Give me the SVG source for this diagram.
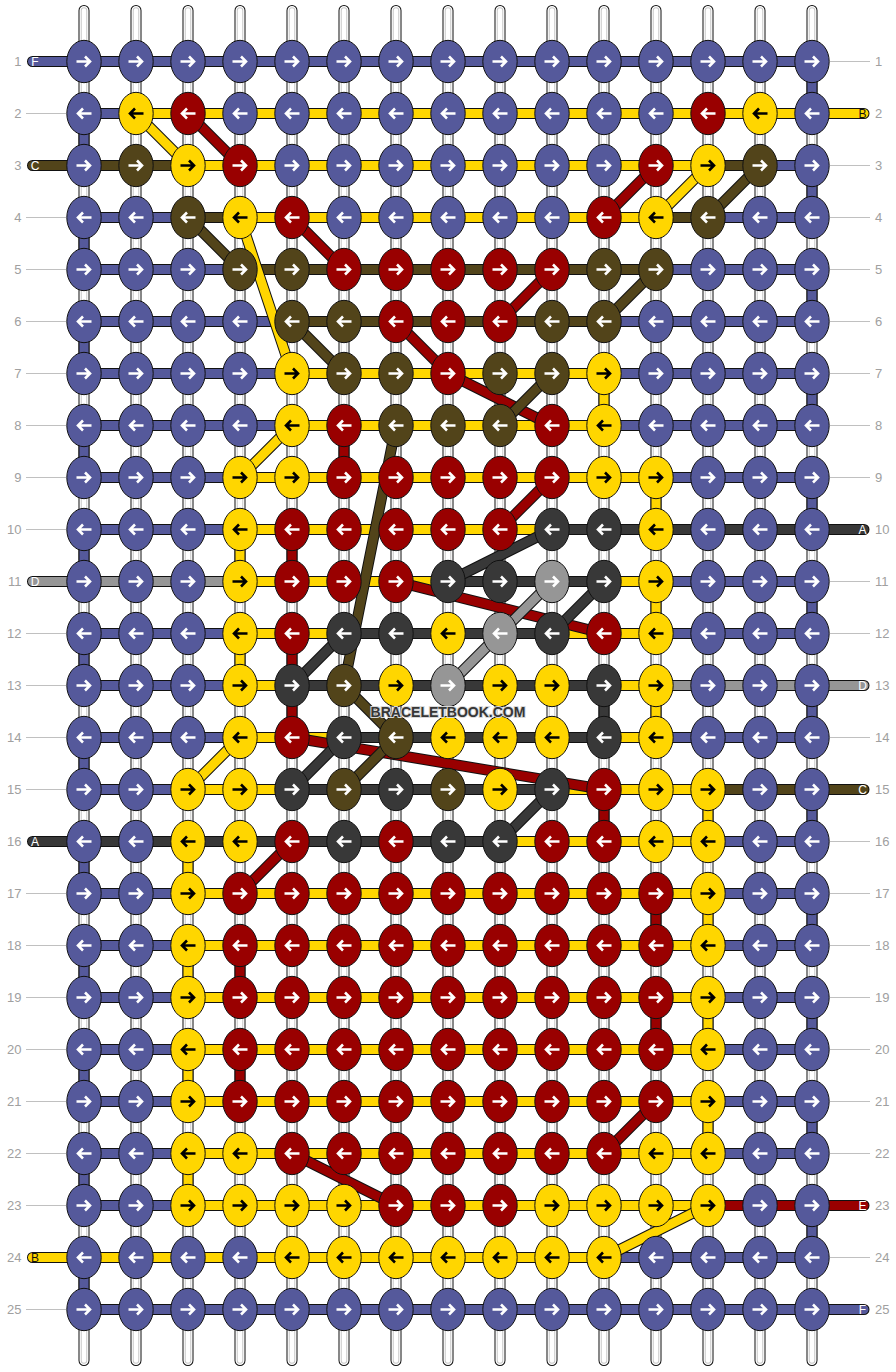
<svg xmlns="http://www.w3.org/2000/svg" xmlns:xlink="http://www.w3.org/1999/xlink" width="896" height="1372" viewBox="0 0 896 1372">
<style>
.ol{fill:none;stroke:#111;stroke-width:11;stroke-linecap:round;stroke-linejoin:round}
.ln{fill:none;stroke-width:9;stroke-linecap:round;stroke-linejoin:round}
.sU{stroke:#55599b}.sY{stroke:#ffd600}.sR{stroke:#990000}.sO{stroke:#52441a}.sK{stroke:#383838}.sG{stroke:#969696}
.U{fill:#55599b;color:#fff}.Y{fill:#ffd600;color:#000}.R{fill:#990000;color:#fff}.O{fill:#52441a;color:#fff}.K{fill:#383838;color:#fff}.G{fill:#969696;color:#fff}
.nl{font-family:"Liberation Sans",Arial,sans-serif;font-size:13px;fill:#a0a0a0;text-anchor:end}
.nr{font-family:"Liberation Sans",Arial,sans-serif;font-size:13px;fill:#a0a0a0}
.lt{font-family:"Liberation Sans",Arial,sans-serif;font-size:12px;fill:#fff;text-anchor:middle}
</style>
<defs>
<g id="kr"><ellipse rx="17.2" ry="21.2" stroke="#111" stroke-width="1"/><path d="M-7.5 0H5M1 -5L6 0L1 5" fill="none" stroke="currentColor" stroke-width="2.6"/></g>
<g id="kl"><ellipse rx="17.2" ry="21.2" stroke="#111" stroke-width="1"/><path d="M7.5 0H-5M-1 -5L-6 0L-1 5" fill="none" stroke="currentColor" stroke-width="2.6"/></g>
<path id="st" d="M84 10.5V1360.5M136 10.5V1360.5M188 10.5V1360.5M240 10.5V1360.5M292 10.5V1360.5M344 10.5V1360.5M396 10.5V1360.5M448 10.5V1360.5M500 10.5V1360.5M552 10.5V1360.5M604 10.5V1360.5M656 10.5V1360.5M708 10.5V1360.5M760 10.5V1360.5M812 10.5V1360.5"/>
<path id="pU" d="M32.5 61.5H812M84 113.5H136M760 165.5H812M84 217.5H188M708 217.5H812M84 269.5H240M656 269.5H812M84 321.5H292M604 321.5H812M84 373.5H292M604 373.5H812M84 425.5H292M604 425.5H812M84 477.5H240M656 477.5H812M84 529.5H240M656 581.5H812M84 633.5H240M656 633.5H812M84 685.5H240M84 737.5H240M656 737.5H812M84 789.5H188M708 841.5H812M84 893.5H188M708 893.5H812M84 945.5H188M708 945.5H812M84 997.5H188M708 997.5H812M84 1049.5H188M708 1049.5H812M84 1101.5H188M708 1101.5H812M84 1153.5H188M708 1153.5H812M84 1205.5H188M604 1257.5H812M84 1309.5H864M812 61.5V113.5M84 113.5V165.5M812 165.5V217.5M84 217.5V269.5M812 269.5V321.5M84 321.5V373.5M812 373.5V425.5M84 425.5V477.5M812 477.5V529.5M84 529.5V581.5M812 581.5V633.5M84 633.5V685.5M812 685.5V737.5M84 737.5V789.5M812 789.5V841.5M84 841.5V893.5M812 893.5V945.5M84 945.5V997.5M812 997.5V1049.5M84 1049.5V1101.5M812 1101.5V1153.5M84 1153.5V1205.5M812 1205.5V1257.5M84 1257.5V1309.5"/>
<path id="pY" d="M136 113.5H864M188 165.5H708M240 217.5H656M292 373.5H604M292 425.5H604M240 477.5H656M240 529.5H552M240 581.5H448M604 581.5H656M240 633.5H344M552 633.5H656M240 685.5H292M604 685.5H656M240 737.5H344M604 737.5H656M188 789.5H292M552 789.5H708M500 841.5H708M188 893.5H708M188 945.5H708M188 997.5H708M188 1049.5H708M188 1101.5H708M188 1153.5H708M188 1205.5H708M32.5 1257.5H604M604 373.5V425.5M656 477.5V529.5M240 529.5V581.5M656 581.5V633.5M240 633.5V685.5M656 685.5V737.5M708 789.5V841.5M188 841.5V893.5M708 893.5V945.5M188 945.5V997.5M708 997.5V1049.5M188 1049.5V1101.5M708 1101.5V1153.5M188 1153.5V1205.5"/>
<path id="pO" d="M32.5 165.5H188M708 165.5H760M188 217.5H240M656 217.5H708M240 269.5H656M292 321.5H604M708 789.5H864"/>
<path id="pK" d="M552 529.5H864M448 581.5H604M344 633.5H552M292 685.5H604M344 737.5H604M292 789.5H552M32.5 841.5H500M604 685.5V737.5"/>
<path id="pG" d="M32.5 581.5H240M656 685.5H864"/>
<path id="pR" d="M708 1205.5H864M344 425.5V477.5M292 529.5V581.5M292 633.5V737.5M604 789.5V841.5M656 893.5V945.5M240 945.5V997.5M656 997.5V1049.5M240 1049.5V1101.5"/>
<path id="d1" d="M136 113.5L188 165.5"/>
<path id="d2" d="M188 113.5L240 165.5"/>
<path id="d3" d="M656 165.5L604 217.5"/>
<path id="d4" d="M708 165.5L656 217.5"/>
<path id="d5" d="M760 165.5L708 217.5"/>
<path id="d6" d="M188 217.5L240 269.5"/>
<path id="d7" d="M292 217.5L344 269.5"/>
<path id="d8" d="M240 217.5L292 373.5"/>
<path id="d9" d="M552 269.5L500 321.5"/>
<path id="d10" d="M656 269.5L604 321.5"/>
<path id="d11" d="M292 321.5L344 373.5"/>
<path id="d12" d="M396 321.5L448 373.5"/>
<path id="d13" d="M448 373.5L552 425.5"/>
<path id="d14" d="M552 373.5L500 425.5"/>
<path id="d15" d="M292 425.5L240 477.5"/>
<path id="d16" d="M396 425.5L344 685.5"/>
<path id="d17" d="M552 477.5L500 529.5"/>
<path id="d18" d="M552 529.5L448 581.5"/>
<path id="d19" d="M396 581.5L604 633.5"/>
<path id="d20" d="M552 581.5L500 633.5"/>
<path id="d21" d="M604 581.5L552 633.5"/>
<path id="d22" d="M344 633.5L292 685.5"/>
<path id="d23" d="M500 633.5L448 685.5"/>
<path id="d24" d="M344 685.5L396 737.5"/>
<path id="d25" d="M240 737.5L188 789.5"/>
<path id="d26" d="M292 737.5L604 789.5"/>
<path id="d27" d="M344 737.5L292 789.5"/>
<path id="d28" d="M396 737.5L344 789.5"/>
<path id="d29" d="M552 789.5L500 841.5"/>
<path id="d30" d="M292 841.5L240 893.5"/>
<path id="d31" d="M656 1101.5L604 1153.5"/>
<path id="d32" d="M292 1153.5L396 1205.5"/>
<path id="d33" d="M708 1205.5L604 1257.5"/>
</defs>
<rect width="896" height="1372" fill="#fff"/>
<g id="connectors">
<use href="#st" fill="none" stroke="#111" stroke-width="11" stroke-linecap="round"/>
<use href="#st" fill="none" stroke="#fff" stroke-width="9" stroke-linecap="round"/>
<use href="#st" fill="none" stroke="#c8c8c8" stroke-width="6.5" stroke-linecap="round"/>
<use href="#st" fill="none" stroke="#fff" stroke-width="4.5" stroke-linecap="round"/>
<use href="#pU" class="ol"/><use href="#pY" class="ol"/><use href="#pO" class="ol"/><use href="#pK" class="ol"/><use href="#pG" class="ol"/><use href="#pR" class="ol"/>
<use href="#pU" class="ln sU"/><use href="#pY" class="ln sY"/><use href="#pO" class="ln sO"/><use href="#pK" class="ln sK"/><use href="#pG" class="ln sG"/><use href="#pR" class="ln sR"/>
<use href="#d1" class="ol"/><use href="#d1" class="ln sY"/>
<use href="#d2" class="ol"/><use href="#d2" class="ln sR"/>
<use href="#d3" class="ol"/><use href="#d3" class="ln sR"/>
<use href="#d4" class="ol"/><use href="#d4" class="ln sY"/>
<use href="#d5" class="ol"/><use href="#d5" class="ln sO"/>
<use href="#d6" class="ol"/><use href="#d6" class="ln sO"/>
<use href="#d7" class="ol"/><use href="#d7" class="ln sR"/>
<use href="#d8" class="ol"/><use href="#d8" class="ln sY"/>
<use href="#d9" class="ol"/><use href="#d9" class="ln sR"/>
<use href="#d10" class="ol"/><use href="#d10" class="ln sO"/>
<use href="#d11" class="ol"/><use href="#d11" class="ln sO"/>
<use href="#d12" class="ol"/><use href="#d12" class="ln sR"/>
<use href="#d13" class="ol"/><use href="#d13" class="ln sR"/>
<use href="#d14" class="ol"/><use href="#d14" class="ln sO"/>
<use href="#d15" class="ol"/><use href="#d15" class="ln sY"/>
<use href="#d16" class="ol"/><use href="#d16" class="ln sO"/>
<use href="#d17" class="ol"/><use href="#d17" class="ln sR"/>
<use href="#d18" class="ol"/><use href="#d18" class="ln sK"/>
<use href="#d19" class="ol"/><use href="#d19" class="ln sR"/>
<use href="#d20" class="ol"/><use href="#d20" class="ln sG"/>
<use href="#d21" class="ol"/><use href="#d21" class="ln sK"/>
<use href="#d22" class="ol"/><use href="#d22" class="ln sK"/>
<use href="#d23" class="ol"/><use href="#d23" class="ln sG"/>
<use href="#d24" class="ol"/><use href="#d24" class="ln sO"/>
<use href="#d25" class="ol"/><use href="#d25" class="ln sY"/>
<use href="#d26" class="ol"/><use href="#d26" class="ln sR"/>
<use href="#d27" class="ol"/><use href="#d27" class="ln sK"/>
<use href="#d28" class="ol"/><use href="#d28" class="ln sO"/>
<use href="#d29" class="ol"/><use href="#d29" class="ln sK"/>
<use href="#d30" class="ol"/><use href="#d30" class="ln sR"/>
<use href="#d31" class="ol"/><use href="#d31" class="ln sR"/>
<use href="#d32" class="ol"/><use href="#d32" class="ln sR"/>
<use href="#d33" class="ol"/><use href="#d33" class="ln sY"/>
</g>
<g id="labels">
<path d="M26 113.5H66M26 217.5H66M26 269.5H66M26 321.5H66M26 373.5H66M26 425.5H66M26 477.5H66M26 529.5H66M26 633.5H66M26 685.5H66M26 737.5H66M26 789.5H66M26 893.5H66M26 945.5H66M26 997.5H66M26 1049.5H66M26 1101.5H66M26 1153.5H66M26 1205.5H66M26 1309.5H66M830 61.5H870M830 165.5H870M830 217.5H870M830 269.5H870M830 321.5H870M830 373.5H870M830 425.5H870M830 477.5H870M830 581.5H870M830 633.5H870M830 737.5H870M830 841.5H870M830 893.5H870M830 945.5H870M830 997.5H870M830 1049.5H870M830 1101.5H870M830 1153.5H870M830 1257.5H870" stroke="#c0c0c0" stroke-width="1" fill="none"/>
<text class="nl" x="21.5" y="66">1</text><text class="nl" x="21.5" y="118">2</text><text class="nl" x="21.5" y="170">3</text><text class="nl" x="21.5" y="222">4</text><text class="nl" x="21.5" y="274">5</text><text class="nl" x="21.5" y="326">6</text><text class="nl" x="21.5" y="378">7</text><text class="nl" x="21.5" y="430">8</text><text class="nl" x="21.5" y="482">9</text><text class="nl" x="21.5" y="534">10</text><text class="nl" x="21.5" y="586">11</text><text class="nl" x="21.5" y="638">12</text><text class="nl" x="21.5" y="690">13</text><text class="nl" x="21.5" y="742">14</text><text class="nl" x="21.5" y="794">15</text><text class="nl" x="21.5" y="846">16</text><text class="nl" x="21.5" y="898">17</text><text class="nl" x="21.5" y="950">18</text><text class="nl" x="21.5" y="1002">19</text><text class="nl" x="21.5" y="1054">20</text><text class="nl" x="21.5" y="1106">21</text><text class="nl" x="21.5" y="1158">22</text><text class="nl" x="21.5" y="1210">23</text><text class="nl" x="21.5" y="1262">24</text><text class="nl" x="21.5" y="1314">25</text>
<text class="nr" x="875" y="66">1</text><text class="nr" x="875" y="118">2</text><text class="nr" x="875" y="170">3</text><text class="nr" x="875" y="222">4</text><text class="nr" x="875" y="274">5</text><text class="nr" x="875" y="326">6</text><text class="nr" x="875" y="378">7</text><text class="nr" x="875" y="430">8</text><text class="nr" x="875" y="482">9</text><text class="nr" x="875" y="534">10</text><text class="nr" x="875" y="586">11</text><text class="nr" x="875" y="638">12</text><text class="nr" x="875" y="690">13</text><text class="nr" x="875" y="742">14</text><text class="nr" x="875" y="794">15</text><text class="nr" x="875" y="846">16</text><text class="nr" x="875" y="898">17</text><text class="nr" x="875" y="950">18</text><text class="nr" x="875" y="1002">19</text><text class="nr" x="875" y="1054">20</text><text class="nr" x="875" y="1106">21</text><text class="nr" x="875" y="1158">22</text><text class="nr" x="875" y="1210">23</text><text class="nr" x="875" y="1262">24</text><text class="nr" x="875" y="1314">25</text>
<text class="lt" x="35" y="65.8">F</text><text class="lt" x="35" y="169.8">C</text><text class="lt" x="35" y="585.8">D</text><text class="lt" x="35" y="845.8">A</text><text class="lt" x="35" y="1261.8" fill="#111" style="fill:#111">B</text>
<text class="lt" x="862.5" y="117.8" style="fill:#111">B</text><text class="lt" x="862.5" y="533.8">A</text><text class="lt" x="862.5" y="689.8">D</text><text class="lt" x="862.5" y="793.8">C</text><text class="lt" x="862.5" y="1209.8">E</text><text class="lt" x="862.5" y="1313.8">F</text>
</g>
<g id="knots">
<g transform="translate(0 61.5)"><g id="k1-1" class="U"><use href="#kr" x="84"/></g><g id="k1-2" class="U"><use href="#kr" x="136"/></g><g id="k1-3" class="U"><use href="#kr" x="188"/></g><g id="k1-4" class="U"><use href="#kr" x="240"/></g><g id="k1-5" class="U"><use href="#kr" x="292"/></g><g id="k1-6" class="U"><use href="#kr" x="344"/></g><g id="k1-7" class="U"><use href="#kr" x="396"/></g><g id="k1-8" class="U"><use href="#kr" x="448"/></g><g id="k1-9" class="U"><use href="#kr" x="500"/></g><g id="k1-10" class="U"><use href="#kr" x="552"/></g><g id="k1-11" class="U"><use href="#kr" x="604"/></g><g id="k1-12" class="U"><use href="#kr" x="656"/></g><g id="k1-13" class="U"><use href="#kr" x="708"/></g><g id="k1-14" class="U"><use href="#kr" x="760"/></g><g id="k1-15" class="U"><use href="#kr" x="812"/></g></g>
<g transform="translate(0 113.5)"><g id="k2-1" class="U"><use href="#kl" x="84"/></g><g id="k2-2" class="Y"><use href="#kl" x="136"/></g><g id="k2-3" class="R"><use href="#kl" x="188"/></g><g id="k2-4" class="U"><use href="#kl" x="240"/></g><g id="k2-5" class="U"><use href="#kl" x="292"/></g><g id="k2-6" class="U"><use href="#kl" x="344"/></g><g id="k2-7" class="U"><use href="#kl" x="396"/></g><g id="k2-8" class="U"><use href="#kl" x="448"/></g><g id="k2-9" class="U"><use href="#kl" x="500"/></g><g id="k2-10" class="U"><use href="#kl" x="552"/></g><g id="k2-11" class="U"><use href="#kl" x="604"/></g><g id="k2-12" class="U"><use href="#kl" x="656"/></g><g id="k2-13" class="R"><use href="#kl" x="708"/></g><g id="k2-14" class="Y"><use href="#kl" x="760"/></g><g id="k2-15" class="U"><use href="#kl" x="812"/></g></g>
<g transform="translate(0 165.5)"><g id="k3-1" class="U"><use href="#kr" x="84"/></g><g id="k3-2" class="O"><use href="#kr" x="136"/></g><g id="k3-3" class="Y"><use href="#kr" x="188"/></g><g id="k3-4" class="R"><use href="#kr" x="240"/></g><g id="k3-5" class="U"><use href="#kr" x="292"/></g><g id="k3-6" class="U"><use href="#kr" x="344"/></g><g id="k3-7" class="U"><use href="#kr" x="396"/></g><g id="k3-8" class="U"><use href="#kr" x="448"/></g><g id="k3-9" class="U"><use href="#kr" x="500"/></g><g id="k3-10" class="U"><use href="#kr" x="552"/></g><g id="k3-11" class="U"><use href="#kr" x="604"/></g><g id="k3-12" class="R"><use href="#kr" x="656"/></g><g id="k3-13" class="Y"><use href="#kr" x="708"/></g><g id="k3-14" class="O"><use href="#kr" x="760"/></g><g id="k3-15" class="U"><use href="#kr" x="812"/></g></g>
<g transform="translate(0 217.5)"><g id="k4-1" class="U"><use href="#kl" x="84"/></g><g id="k4-2" class="U"><use href="#kl" x="136"/></g><g id="k4-3" class="O"><use href="#kl" x="188"/></g><g id="k4-4" class="Y"><use href="#kl" x="240"/></g><g id="k4-5" class="R"><use href="#kl" x="292"/></g><g id="k4-6" class="U"><use href="#kl" x="344"/></g><g id="k4-7" class="U"><use href="#kl" x="396"/></g><g id="k4-8" class="U"><use href="#kl" x="448"/></g><g id="k4-9" class="U"><use href="#kl" x="500"/></g><g id="k4-10" class="U"><use href="#kl" x="552"/></g><g id="k4-11" class="R"><use href="#kl" x="604"/></g><g id="k4-12" class="Y"><use href="#kl" x="656"/></g><g id="k4-13" class="O"><use href="#kl" x="708"/></g><g id="k4-14" class="U"><use href="#kl" x="760"/></g><g id="k4-15" class="U"><use href="#kl" x="812"/></g></g>
<g transform="translate(0 269.5)"><g id="k5-1" class="U"><use href="#kr" x="84"/></g><g id="k5-2" class="U"><use href="#kr" x="136"/></g><g id="k5-3" class="U"><use href="#kr" x="188"/></g><g id="k5-4" class="O"><use href="#kr" x="240"/></g><g id="k5-5" class="O"><use href="#kr" x="292"/></g><g id="k5-6" class="R"><use href="#kr" x="344"/></g><g id="k5-7" class="R"><use href="#kr" x="396"/></g><g id="k5-8" class="R"><use href="#kr" x="448"/></g><g id="k5-9" class="R"><use href="#kr" x="500"/></g><g id="k5-10" class="R"><use href="#kr" x="552"/></g><g id="k5-11" class="O"><use href="#kr" x="604"/></g><g id="k5-12" class="O"><use href="#kr" x="656"/></g><g id="k5-13" class="U"><use href="#kr" x="708"/></g><g id="k5-14" class="U"><use href="#kr" x="760"/></g><g id="k5-15" class="U"><use href="#kr" x="812"/></g></g>
<g transform="translate(0 321.5)"><g id="k6-1" class="U"><use href="#kl" x="84"/></g><g id="k6-2" class="U"><use href="#kl" x="136"/></g><g id="k6-3" class="U"><use href="#kl" x="188"/></g><g id="k6-4" class="U"><use href="#kl" x="240"/></g><g id="k6-5" class="O"><use href="#kl" x="292"/></g><g id="k6-6" class="O"><use href="#kl" x="344"/></g><g id="k6-7" class="R"><use href="#kl" x="396"/></g><g id="k6-8" class="R"><use href="#kl" x="448"/></g><g id="k6-9" class="R"><use href="#kl" x="500"/></g><g id="k6-10" class="O"><use href="#kl" x="552"/></g><g id="k6-11" class="O"><use href="#kl" x="604"/></g><g id="k6-12" class="U"><use href="#kl" x="656"/></g><g id="k6-13" class="U"><use href="#kl" x="708"/></g><g id="k6-14" class="U"><use href="#kl" x="760"/></g><g id="k6-15" class="U"><use href="#kl" x="812"/></g></g>
<g transform="translate(0 373.5)"><g id="k7-1" class="U"><use href="#kr" x="84"/></g><g id="k7-2" class="U"><use href="#kr" x="136"/></g><g id="k7-3" class="U"><use href="#kr" x="188"/></g><g id="k7-4" class="U"><use href="#kr" x="240"/></g><g id="k7-5" class="Y"><use href="#kr" x="292"/></g><g id="k7-6" class="O"><use href="#kr" x="344"/></g><g id="k7-7" class="O"><use href="#kr" x="396"/></g><g id="k7-8" class="R"><use href="#kr" x="448"/></g><g id="k7-9" class="O"><use href="#kr" x="500"/></g><g id="k7-10" class="O"><use href="#kr" x="552"/></g><g id="k7-11" class="Y"><use href="#kr" x="604"/></g><g id="k7-12" class="U"><use href="#kr" x="656"/></g><g id="k7-13" class="U"><use href="#kr" x="708"/></g><g id="k7-14" class="U"><use href="#kr" x="760"/></g><g id="k7-15" class="U"><use href="#kr" x="812"/></g></g>
<g transform="translate(0 425.5)"><g id="k8-1" class="U"><use href="#kl" x="84"/></g><g id="k8-2" class="U"><use href="#kl" x="136"/></g><g id="k8-3" class="U"><use href="#kl" x="188"/></g><g id="k8-4" class="U"><use href="#kl" x="240"/></g><g id="k8-5" class="Y"><use href="#kl" x="292"/></g><g id="k8-6" class="R"><use href="#kl" x="344"/></g><g id="k8-7" class="O"><use href="#kl" x="396"/></g><g id="k8-8" class="O"><use href="#kl" x="448"/></g><g id="k8-9" class="O"><use href="#kl" x="500"/></g><g id="k8-10" class="R"><use href="#kl" x="552"/></g><g id="k8-11" class="Y"><use href="#kl" x="604"/></g><g id="k8-12" class="U"><use href="#kl" x="656"/></g><g id="k8-13" class="U"><use href="#kl" x="708"/></g><g id="k8-14" class="U"><use href="#kl" x="760"/></g><g id="k8-15" class="U"><use href="#kl" x="812"/></g></g>
<g transform="translate(0 477.5)"><g id="k9-1" class="U"><use href="#kr" x="84"/></g><g id="k9-2" class="U"><use href="#kr" x="136"/></g><g id="k9-3" class="U"><use href="#kr" x="188"/></g><g id="k9-4" class="Y"><use href="#kr" x="240"/></g><g id="k9-5" class="Y"><use href="#kr" x="292"/></g><g id="k9-6" class="R"><use href="#kr" x="344"/></g><g id="k9-7" class="R"><use href="#kr" x="396"/></g><g id="k9-8" class="R"><use href="#kr" x="448"/></g><g id="k9-9" class="R"><use href="#kr" x="500"/></g><g id="k9-10" class="R"><use href="#kr" x="552"/></g><g id="k9-11" class="Y"><use href="#kr" x="604"/></g><g id="k9-12" class="Y"><use href="#kr" x="656"/></g><g id="k9-13" class="U"><use href="#kr" x="708"/></g><g id="k9-14" class="U"><use href="#kr" x="760"/></g><g id="k9-15" class="U"><use href="#kr" x="812"/></g></g>
<g transform="translate(0 529.5)"><g id="k10-1" class="U"><use href="#kl" x="84"/></g><g id="k10-2" class="U"><use href="#kl" x="136"/></g><g id="k10-3" class="U"><use href="#kl" x="188"/></g><g id="k10-4" class="Y"><use href="#kl" x="240"/></g><g id="k10-5" class="R"><use href="#kl" x="292"/></g><g id="k10-6" class="R"><use href="#kl" x="344"/></g><g id="k10-7" class="R"><use href="#kl" x="396"/></g><g id="k10-8" class="R"><use href="#kl" x="448"/></g><g id="k10-9" class="R"><use href="#kl" x="500"/></g><g id="k10-10" class="K"><use href="#kl" x="552"/></g><g id="k10-11" class="K"><use href="#kl" x="604"/></g><g id="k10-12" class="Y"><use href="#kl" x="656"/></g><g id="k10-13" class="U"><use href="#kl" x="708"/></g><g id="k10-14" class="U"><use href="#kl" x="760"/></g><g id="k10-15" class="U"><use href="#kl" x="812"/></g></g>
<g transform="translate(0 581.5)"><g id="k11-1" class="U"><use href="#kr" x="84"/></g><g id="k11-2" class="U"><use href="#kr" x="136"/></g><g id="k11-3" class="U"><use href="#kr" x="188"/></g><g id="k11-4" class="Y"><use href="#kr" x="240"/></g><g id="k11-5" class="R"><use href="#kr" x="292"/></g><g id="k11-6" class="R"><use href="#kr" x="344"/></g><g id="k11-7" class="R"><use href="#kr" x="396"/></g><g id="k11-8" class="K"><use href="#kr" x="448"/></g><g id="k11-9" class="K"><use href="#kr" x="500"/></g><g id="k11-10" class="G"><use href="#kr" x="552"/></g><g id="k11-11" class="K"><use href="#kr" x="604"/></g><g id="k11-12" class="Y"><use href="#kr" x="656"/></g><g id="k11-13" class="U"><use href="#kr" x="708"/></g><g id="k11-14" class="U"><use href="#kr" x="760"/></g><g id="k11-15" class="U"><use href="#kr" x="812"/></g></g>
<g transform="translate(0 633.5)"><g id="k12-1" class="U"><use href="#kl" x="84"/></g><g id="k12-2" class="U"><use href="#kl" x="136"/></g><g id="k12-3" class="U"><use href="#kl" x="188"/></g><g id="k12-4" class="Y"><use href="#kl" x="240"/></g><g id="k12-5" class="R"><use href="#kl" x="292"/></g><g id="k12-6" class="K"><use href="#kl" x="344"/></g><g id="k12-7" class="K"><use href="#kl" x="396"/></g><g id="k12-8" class="Y"><use href="#kl" x="448"/></g><g id="k12-9" class="G"><use href="#kl" x="500"/></g><g id="k12-10" class="K"><use href="#kl" x="552"/></g><g id="k12-11" class="R"><use href="#kl" x="604"/></g><g id="k12-12" class="Y"><use href="#kl" x="656"/></g><g id="k12-13" class="U"><use href="#kl" x="708"/></g><g id="k12-14" class="U"><use href="#kl" x="760"/></g><g id="k12-15" class="U"><use href="#kl" x="812"/></g></g>
<g transform="translate(0 685.5)"><g id="k13-1" class="U"><use href="#kr" x="84"/></g><g id="k13-2" class="U"><use href="#kr" x="136"/></g><g id="k13-3" class="U"><use href="#kr" x="188"/></g><g id="k13-4" class="Y"><use href="#kr" x="240"/></g><g id="k13-5" class="K"><use href="#kr" x="292"/></g><g id="k13-6" class="O"><use href="#kr" x="344"/></g><g id="k13-7" class="Y"><use href="#kr" x="396"/></g><g id="k13-8" class="G"><use href="#kr" x="448"/></g><g id="k13-9" class="Y"><use href="#kr" x="500"/></g><g id="k13-10" class="Y"><use href="#kr" x="552"/></g><g id="k13-11" class="K"><use href="#kr" x="604"/></g><g id="k13-12" class="Y"><use href="#kr" x="656"/></g><g id="k13-13" class="U"><use href="#kr" x="708"/></g><g id="k13-14" class="U"><use href="#kr" x="760"/></g><g id="k13-15" class="U"><use href="#kr" x="812"/></g></g>
<g transform="translate(0 737.5)"><g id="k14-1" class="U"><use href="#kl" x="84"/></g><g id="k14-2" class="U"><use href="#kl" x="136"/></g><g id="k14-3" class="U"><use href="#kl" x="188"/></g><g id="k14-4" class="Y"><use href="#kl" x="240"/></g><g id="k14-5" class="R"><use href="#kl" x="292"/></g><g id="k14-6" class="K"><use href="#kl" x="344"/></g><g id="k14-7" class="O"><use href="#kl" x="396"/></g><g id="k14-8" class="Y"><use href="#kl" x="448"/></g><g id="k14-9" class="Y"><use href="#kl" x="500"/></g><g id="k14-10" class="Y"><use href="#kl" x="552"/></g><g id="k14-11" class="K"><use href="#kl" x="604"/></g><g id="k14-12" class="Y"><use href="#kl" x="656"/></g><g id="k14-13" class="U"><use href="#kl" x="708"/></g><g id="k14-14" class="U"><use href="#kl" x="760"/></g><g id="k14-15" class="U"><use href="#kl" x="812"/></g></g>
<g transform="translate(0 789.5)"><g id="k15-1" class="U"><use href="#kr" x="84"/></g><g id="k15-2" class="U"><use href="#kr" x="136"/></g><g id="k15-3" class="Y"><use href="#kr" x="188"/></g><g id="k15-4" class="Y"><use href="#kr" x="240"/></g><g id="k15-5" class="K"><use href="#kr" x="292"/></g><g id="k15-6" class="O"><use href="#kr" x="344"/></g><g id="k15-7" class="K"><use href="#kr" x="396"/></g><g id="k15-8" class="O"><use href="#kr" x="448"/></g><g id="k15-9" class="Y"><use href="#kr" x="500"/></g><g id="k15-10" class="K"><use href="#kr" x="552"/></g><g id="k15-11" class="R"><use href="#kr" x="604"/></g><g id="k15-12" class="Y"><use href="#kr" x="656"/></g><g id="k15-13" class="Y"><use href="#kr" x="708"/></g><g id="k15-14" class="U"><use href="#kr" x="760"/></g><g id="k15-15" class="U"><use href="#kr" x="812"/></g></g>
<g transform="translate(0 841.5)"><g id="k16-1" class="U"><use href="#kl" x="84"/></g><g id="k16-2" class="U"><use href="#kl" x="136"/></g><g id="k16-3" class="Y"><use href="#kl" x="188"/></g><g id="k16-4" class="Y"><use href="#kl" x="240"/></g><g id="k16-5" class="R"><use href="#kl" x="292"/></g><g id="k16-6" class="K"><use href="#kl" x="344"/></g><g id="k16-7" class="R"><use href="#kl" x="396"/></g><g id="k16-8" class="K"><use href="#kl" x="448"/></g><g id="k16-9" class="K"><use href="#kl" x="500"/></g><g id="k16-10" class="R"><use href="#kl" x="552"/></g><g id="k16-11" class="R"><use href="#kl" x="604"/></g><g id="k16-12" class="Y"><use href="#kl" x="656"/></g><g id="k16-13" class="Y"><use href="#kl" x="708"/></g><g id="k16-14" class="U"><use href="#kl" x="760"/></g><g id="k16-15" class="U"><use href="#kl" x="812"/></g></g>
<g transform="translate(0 893.5)"><g id="k17-1" class="U"><use href="#kr" x="84"/></g><g id="k17-2" class="U"><use href="#kr" x="136"/></g><g id="k17-3" class="Y"><use href="#kr" x="188"/></g><g id="k17-4" class="R"><use href="#kr" x="240"/></g><g id="k17-5" class="R"><use href="#kr" x="292"/></g><g id="k17-6" class="R"><use href="#kr" x="344"/></g><g id="k17-7" class="R"><use href="#kr" x="396"/></g><g id="k17-8" class="R"><use href="#kr" x="448"/></g><g id="k17-9" class="R"><use href="#kr" x="500"/></g><g id="k17-10" class="R"><use href="#kr" x="552"/></g><g id="k17-11" class="R"><use href="#kr" x="604"/></g><g id="k17-12" class="R"><use href="#kr" x="656"/></g><g id="k17-13" class="Y"><use href="#kr" x="708"/></g><g id="k17-14" class="U"><use href="#kr" x="760"/></g><g id="k17-15" class="U"><use href="#kr" x="812"/></g></g>
<g transform="translate(0 945.5)"><g id="k18-1" class="U"><use href="#kl" x="84"/></g><g id="k18-2" class="U"><use href="#kl" x="136"/></g><g id="k18-3" class="Y"><use href="#kl" x="188"/></g><g id="k18-4" class="R"><use href="#kl" x="240"/></g><g id="k18-5" class="R"><use href="#kl" x="292"/></g><g id="k18-6" class="R"><use href="#kl" x="344"/></g><g id="k18-7" class="R"><use href="#kl" x="396"/></g><g id="k18-8" class="R"><use href="#kl" x="448"/></g><g id="k18-9" class="R"><use href="#kl" x="500"/></g><g id="k18-10" class="R"><use href="#kl" x="552"/></g><g id="k18-11" class="R"><use href="#kl" x="604"/></g><g id="k18-12" class="R"><use href="#kl" x="656"/></g><g id="k18-13" class="Y"><use href="#kl" x="708"/></g><g id="k18-14" class="U"><use href="#kl" x="760"/></g><g id="k18-15" class="U"><use href="#kl" x="812"/></g></g>
<g transform="translate(0 997.5)"><g id="k19-1" class="U"><use href="#kr" x="84"/></g><g id="k19-2" class="U"><use href="#kr" x="136"/></g><g id="k19-3" class="Y"><use href="#kr" x="188"/></g><g id="k19-4" class="R"><use href="#kr" x="240"/></g><g id="k19-5" class="R"><use href="#kr" x="292"/></g><g id="k19-6" class="R"><use href="#kr" x="344"/></g><g id="k19-7" class="R"><use href="#kr" x="396"/></g><g id="k19-8" class="R"><use href="#kr" x="448"/></g><g id="k19-9" class="R"><use href="#kr" x="500"/></g><g id="k19-10" class="R"><use href="#kr" x="552"/></g><g id="k19-11" class="R"><use href="#kr" x="604"/></g><g id="k19-12" class="R"><use href="#kr" x="656"/></g><g id="k19-13" class="Y"><use href="#kr" x="708"/></g><g id="k19-14" class="U"><use href="#kr" x="760"/></g><g id="k19-15" class="U"><use href="#kr" x="812"/></g></g>
<g transform="translate(0 1049.5)"><g id="k20-1" class="U"><use href="#kl" x="84"/></g><g id="k20-2" class="U"><use href="#kl" x="136"/></g><g id="k20-3" class="Y"><use href="#kl" x="188"/></g><g id="k20-4" class="R"><use href="#kl" x="240"/></g><g id="k20-5" class="R"><use href="#kl" x="292"/></g><g id="k20-6" class="R"><use href="#kl" x="344"/></g><g id="k20-7" class="R"><use href="#kl" x="396"/></g><g id="k20-8" class="R"><use href="#kl" x="448"/></g><g id="k20-9" class="R"><use href="#kl" x="500"/></g><g id="k20-10" class="R"><use href="#kl" x="552"/></g><g id="k20-11" class="R"><use href="#kl" x="604"/></g><g id="k20-12" class="R"><use href="#kl" x="656"/></g><g id="k20-13" class="Y"><use href="#kl" x="708"/></g><g id="k20-14" class="U"><use href="#kl" x="760"/></g><g id="k20-15" class="U"><use href="#kl" x="812"/></g></g>
<g transform="translate(0 1101.5)"><g id="k21-1" class="U"><use href="#kr" x="84"/></g><g id="k21-2" class="U"><use href="#kr" x="136"/></g><g id="k21-3" class="Y"><use href="#kr" x="188"/></g><g id="k21-4" class="R"><use href="#kr" x="240"/></g><g id="k21-5" class="R"><use href="#kr" x="292"/></g><g id="k21-6" class="R"><use href="#kr" x="344"/></g><g id="k21-7" class="R"><use href="#kr" x="396"/></g><g id="k21-8" class="R"><use href="#kr" x="448"/></g><g id="k21-9" class="R"><use href="#kr" x="500"/></g><g id="k21-10" class="R"><use href="#kr" x="552"/></g><g id="k21-11" class="R"><use href="#kr" x="604"/></g><g id="k21-12" class="R"><use href="#kr" x="656"/></g><g id="k21-13" class="Y"><use href="#kr" x="708"/></g><g id="k21-14" class="U"><use href="#kr" x="760"/></g><g id="k21-15" class="U"><use href="#kr" x="812"/></g></g>
<g transform="translate(0 1153.5)"><g id="k22-1" class="U"><use href="#kl" x="84"/></g><g id="k22-2" class="U"><use href="#kl" x="136"/></g><g id="k22-3" class="Y"><use href="#kl" x="188"/></g><g id="k22-4" class="Y"><use href="#kl" x="240"/></g><g id="k22-5" class="R"><use href="#kl" x="292"/></g><g id="k22-6" class="R"><use href="#kl" x="344"/></g><g id="k22-7" class="R"><use href="#kl" x="396"/></g><g id="k22-8" class="R"><use href="#kl" x="448"/></g><g id="k22-9" class="R"><use href="#kl" x="500"/></g><g id="k22-10" class="R"><use href="#kl" x="552"/></g><g id="k22-11" class="R"><use href="#kl" x="604"/></g><g id="k22-12" class="Y"><use href="#kl" x="656"/></g><g id="k22-13" class="Y"><use href="#kl" x="708"/></g><g id="k22-14" class="U"><use href="#kl" x="760"/></g><g id="k22-15" class="U"><use href="#kl" x="812"/></g></g>
<g transform="translate(0 1205.5)"><g id="k23-1" class="U"><use href="#kr" x="84"/></g><g id="k23-2" class="U"><use href="#kr" x="136"/></g><g id="k23-3" class="Y"><use href="#kr" x="188"/></g><g id="k23-4" class="Y"><use href="#kr" x="240"/></g><g id="k23-5" class="Y"><use href="#kr" x="292"/></g><g id="k23-6" class="Y"><use href="#kr" x="344"/></g><g id="k23-7" class="R"><use href="#kr" x="396"/></g><g id="k23-8" class="R"><use href="#kr" x="448"/></g><g id="k23-9" class="R"><use href="#kr" x="500"/></g><g id="k23-10" class="Y"><use href="#kr" x="552"/></g><g id="k23-11" class="Y"><use href="#kr" x="604"/></g><g id="k23-12" class="Y"><use href="#kr" x="656"/></g><g id="k23-13" class="Y"><use href="#kr" x="708"/></g><g id="k23-14" class="U"><use href="#kr" x="760"/></g><g id="k23-15" class="U"><use href="#kr" x="812"/></g></g>
<g transform="translate(0 1257.5)"><g id="k24-1" class="U"><use href="#kl" x="84"/></g><g id="k24-2" class="U"><use href="#kl" x="136"/></g><g id="k24-3" class="U"><use href="#kl" x="188"/></g><g id="k24-4" class="U"><use href="#kl" x="240"/></g><g id="k24-5" class="Y"><use href="#kl" x="292"/></g><g id="k24-6" class="Y"><use href="#kl" x="344"/></g><g id="k24-7" class="Y"><use href="#kl" x="396"/></g><g id="k24-8" class="Y"><use href="#kl" x="448"/></g><g id="k24-9" class="Y"><use href="#kl" x="500"/></g><g id="k24-10" class="Y"><use href="#kl" x="552"/></g><g id="k24-11" class="Y"><use href="#kl" x="604"/></g><g id="k24-12" class="U"><use href="#kl" x="656"/></g><g id="k24-13" class="U"><use href="#kl" x="708"/></g><g id="k24-14" class="U"><use href="#kl" x="760"/></g><g id="k24-15" class="U"><use href="#kl" x="812"/></g></g>
<g transform="translate(0 1309.5)"><g id="k25-1" class="U"><use href="#kr" x="84"/></g><g id="k25-2" class="U"><use href="#kr" x="136"/></g><g id="k25-3" class="U"><use href="#kr" x="188"/></g><g id="k25-4" class="U"><use href="#kr" x="240"/></g><g id="k25-5" class="U"><use href="#kr" x="292"/></g><g id="k25-6" class="U"><use href="#kr" x="344"/></g><g id="k25-7" class="U"><use href="#kr" x="396"/></g><g id="k25-8" class="U"><use href="#kr" x="448"/></g><g id="k25-9" class="U"><use href="#kr" x="500"/></g><g id="k25-10" class="U"><use href="#kr" x="552"/></g><g id="k25-11" class="U"><use href="#kr" x="604"/></g><g id="k25-12" class="U"><use href="#kr" x="656"/></g><g id="k25-13" class="U"><use href="#kr" x="708"/></g><g id="k25-14" class="U"><use href="#kr" x="760"/></g><g id="k25-15" class="U"><use href="#kr" x="812"/></g></g>
</g>
<text x="448" y="717" font-family="Liberation Sans, Arial, sans-serif" font-weight="bold" font-size="14" text-anchor="middle" fill="#363636" stroke="#d8d8d8" stroke-width="2" paint-order="stroke">BRACELETBOOK.COM</text>
</svg>
